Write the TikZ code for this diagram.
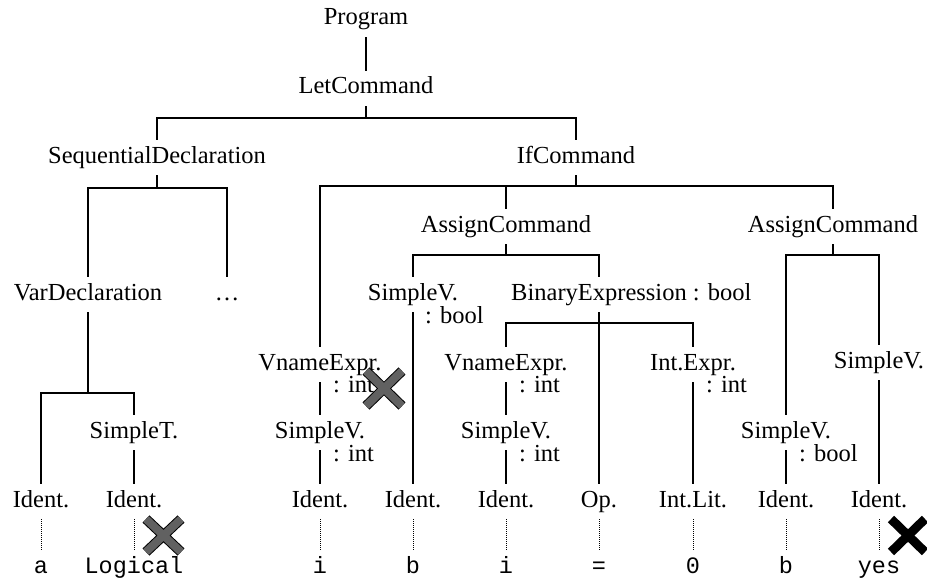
\documentclass[tikz,border=0pt]{standalone}
\usepackage{fontspec}
\setmainfont{Liberation Serif}
\setmonofont{Liberation Mono}
\usetikzlibrary{calc}
\begin{document}
\begin{tikzpicture}[x=1pt,y=-1pt,
  lbl/.style={anchor=base, inner xsep=0pt, inner ysep=7pt, text height=16pt, text depth=5pt, font=\fontsize{24.5}{28}\selectfont},
  ann/.style={anchor=base west, inner sep=0pt, font=\fontsize{24.5}{28}\selectfont},
  leaf/.style={lbl, font=\fontsize{23.5}{28}\selectfont\ttfamily},
  edge/.style={line width=1.9pt},
  dotline/.style={line width=1pt, dash pattern=on 1pt off 1pt},
  greycross/.style={line width=8pt, draw=black!62},
  blackcross/.style={line width=9pt, draw=black}]
\useasboundingbox (0,0) rectangle (927,578);
% nodes
\node[lbl] (prog) at (366,25) {Program};
\node[lbl] (let) at (366,94) {LetCommand};
\node[lbl] (seq) at (157,163) {SequentialDeclaration};
\node[lbl] (ifc) at (576,163) {IfCommand};
\node[lbl] (var) at (88,300) {VarDeclaration};
\node[lbl] (dots) at (227,300) {…};
\node[lbl] (asg1) at (506,232) {AssignCommand};
\node[lbl] (asg2) at (833,232) {AssignCommand};
\node[lbl] (sv1) at (413,300) {SimpleV.};
\node[ann] (sv1t) at ($(sv1.base)+(12,23)$) {: bool};
\node[lbl] (bin) at (599,300) {BinaryExpression\rlap{ : bool}};
\node[lbl] (vn1) at (320,370) {VnameExpr.};
\node[ann] (vn1t) at ($(vn1.base)+(13,22)$) {: int};
\node[lbl] (sv2) at (320,438) {SimpleV.};
\node[ann] (sv2t) at ($(sv2.base)+(13,23)$) {: int};
\node[lbl] (vn2) at (506,370) {VnameExpr.};
\node[ann] (vn2t) at ($(vn2.base)+(13,22)$) {: int};
\node[lbl] (sv3) at (506,438) {SimpleV.};
\node[ann] (sv3t) at ($(sv3.base)+(13,23)$) {: int};
\node[lbl] (ie) at (693,370) {Int.Expr.};
\node[ann] (iet) at ($(ie.base)+(13,22)$) {: int};
\node[lbl] (sv4) at (786,438) {SimpleV.};
\node[ann] (sv4t) at ($(sv4.base)+(13,23)$) {: bool};
\node[lbl] (sv5) at (879,368) {SimpleV.};
\node[lbl] (st) at (134,438) {SimpleT.};
% identifiers
\node[lbl] (id1) at (41,507) {Ident.};
\node[lbl] (id2) at (134,507) {Ident.};
\node[lbl] (id3) at (320,507) {Ident.};
\node[lbl] (id4) at (413,507) {Ident.};
\node[lbl] (id5) at (506,507) {Ident.};
\node[lbl] (op) at (599,507) {Op.};
\node[lbl] (lit) at (693,507) {Int.Lit.};
\node[lbl] (id6) at (786,507) {Ident.};
\node[lbl] (id7) at (879,507) {Ident.};
% leaves
\node[leaf] (l1) at (41,573) {a};
\node[leaf] (l2) at (134,573) {Logical};
\node[leaf] (l3) at (320,573) {i};
\node[leaf] (l4) at (413,573) {b};
\node[leaf] (l5) at (506,573) {i};
\node[leaf] (l6) at (599,573) {=};
\node[leaf] (l7) at (693,573) {0};
\node[leaf] (l8) at (786,573) {b};
\node[leaf] (l9) at (879,573) {yes};
% connectors
\draw[edge] (prog.south) -- (let.north);
\draw[edge] (let.south) -- ++(0,12) coordinate (b1);
\draw[edge] (seq.north) |- (b1) -| (ifc.north);
\draw[edge] (seq.south) -- ++(0,13) coordinate (b2);
\draw[edge] (var.north) |- (b2) -| (dots.north);
\draw[edge] (ifc.south) -- ++(0,11) coordinate (b3);
\draw[edge] (vn1.north) |- (b3) -| (asg2.north);
\draw[edge] (asg1.north) -- (asg1.north |- b3);
\draw[edge] (asg1.south) -- ++(0,11) coordinate (b4);
\draw[edge] (sv1.north) |- (b4) -| (bin.north);
\draw[edge] (asg2.south) -- ++(0,11) coordinate (b5);
\draw[edge] (sv4.north) |- (b5) -| (sv5.north);
\draw[edge] (bin.south) -- ++(0,11) coordinate (b6);
\draw[edge] (vn2.north) |- (b6) -| (ie.north);
\draw[edge] (bin.south) -- (op.north);
\draw[edge] (var.south) -- ++(0,81) coordinate (b7);
\draw[edge] (id1.north) |- (b7) -| (st.north);
\draw[edge] (st.south) -- (id2.north);
\draw[edge] (vn1.south) -- (sv2.north);
\draw[edge] (sv2.south) -- (id3.north);
\draw[edge] (sv1.south) -- (id4.north);
\draw[edge] (vn2.south) -- (sv3.north);
\draw[edge] (sv3.south) -- (id5.north);
\draw[edge] (ie.south) -- (lit.north);
\draw[edge] (sv4.south) -- (id6.north);
\draw[edge] (sv5.south) -- (id7.north);
% dotted
\foreach \a/\b in {id1/l1,id2/l2,id3/l3,id4/l4,id5/l5,op/l6,lit/l7,id6/l8,id7/l9}
  \draw[dotline] (\a.south) -- (\b.north);
% crosses
\draw[line width=10pt] (366,371) -- (402,406) (366,406) -- (402,371);
\draw[greycross] (366,371) -- (402,406) (366,406) -- (402,371);
\draw[line width=10pt] (146,519) -- (181,552) (146,552) -- (181,519);
\draw[greycross] (146,519) -- (181,552) (146,552) -- (181,519);
\draw[blackcross] (891,519) -- (925,552) (891,552) -- (925,519);
\end{tikzpicture}
\end{document}
